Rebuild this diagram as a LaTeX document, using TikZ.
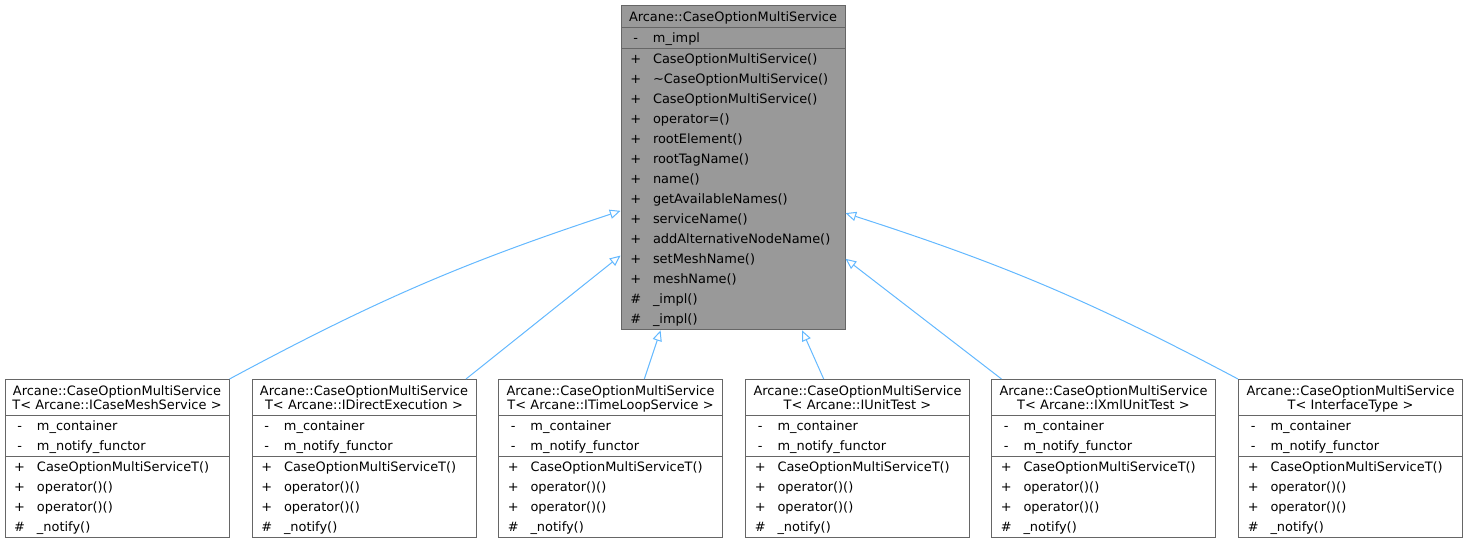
\documentclass[tikz,border=0pt]{standalone}
\usepackage{fontspec}
\setmainfont{DejaVu Sans}
\usetikzlibrary{shapes.multipart,arrows.meta}
\definecolor{basegray}{HTML}{999999}
\definecolor{boxborder}{HTML}{666666}
\definecolor{edgeblue}{HTML}{63B8FF}
% one member row: visibility sign, then name
\newcommand\mem[2]{\strut\makebox[14pt][c]{#1}\hspace{6pt}#2}
% centred class title
\newcommand\ttl[1]{\centering\fontsize{9.7}{10.5}\selectfont\rule{0pt}{11.5pt}#1\rule[-4.5pt]{0pt}{0pt}\par}
% members shared by all the templated classes
\newcommand\tmembers{%
  \nodepart{two}\mem{-}{m\_container}\\\mem{-}{m\_notify\_functor}%
  \nodepart{three}\mem{+}{CaseOptionMultiServiceT()}\\\mem{+}{operator()()}\\\mem{+}{operator()()}\\\mem{\#}{\_notify()}}
\begin{document}
\begin{tikzpicture}[x=0.75pt,y=-0.75pt,
  umlclass/.style={rectangle split,rectangle split parts=3,draw=boxborder,line width=0.75pt,
    text width=160pt,align=left,inner xsep=4pt,inner ysep=0pt,
    font=\fontsize{9.7}{15}\selectfont,anchor=north},
  baseclass/.style={umlclass,fill=basegray},
  derived/.style={umlclass,fill=white},
  inherit/.style={draw=edgeblue,line width=0.75pt,-{Triangle[open,length=8pt,width=7pt]}}]
\useasboundingbox (0,0) rectangle (1467,544);

\node[baseclass] (base) at (733,5) {\ttl{Arcane::CaseOptionMultiService}
  \nodepart{two}\mem{-}{m\_impl}
  \nodepart{three}\mem{+}{CaseOptionMultiService()}\\
  \mem{+}{\textasciitilde CaseOptionMultiService()}\\
  \mem{+}{CaseOptionMultiService()}\\
  \mem{+}{operator=()}\\
  \mem{+}{rootElement()}\\
  \mem{+}{rootTagName()}\\
  \mem{+}{name()}\\
  \mem{+}{getAvailableNames()}\\
  \mem{+}{serviceName()}\\
  \mem{+}{addAlternativeNodeName()}\\
  \mem{+}{setMeshName()}\\
  \mem{+}{meshName()}\\
  \mem{\#}{\_impl()}\\
  \mem{\#}{\_impl()}};

\node[derived] (mesh) at (117,379) {\ttl{Arcane::CaseOptionMultiService\\T< Arcane::ICaseMeshService >}\tmembers};
\node[derived] (direct) at (364,379) {\ttl{Arcane::CaseOptionMultiService\\T< Arcane::IDirectExecution >}\tmembers};
\node[derived] (timeloop) at (610.5,379) {\ttl{Arcane::CaseOptionMultiService\\T< Arcane::ITimeLoopService >}\tmembers};
\node[derived] (unittest) at (857.5,379) {\ttl{Arcane::CaseOptionMultiService\\T< Arcane::IUnitTest >}\tmembers};
\node[derived] (xmltest) at (1103.5,379) {\ttl{Arcane::CaseOptionMultiService\\T< Arcane::IXmlUnitTest >}\tmembers};
\node[derived] (generic) at (1350.5,379) {\ttl{Arcane::CaseOptionMultiService\\T< InterfaceType >}\tmembers};

\draw[inherit] (mesh.north east) to[bend left=5] (base.201.7);
\draw[inherit] (direct.38) -- (base.218.9);
\draw[inherit] (timeloop.67.6) -- (base.246.4);
\draw[inherit] (unittest.113.6) -- (base.293.3);
\draw[inherit] (xmltest.142) -- (base.321.1);
\draw[inherit] (generic.north west) to[bend right=5] (base.338.3);
\end{tikzpicture}
\end{document}
